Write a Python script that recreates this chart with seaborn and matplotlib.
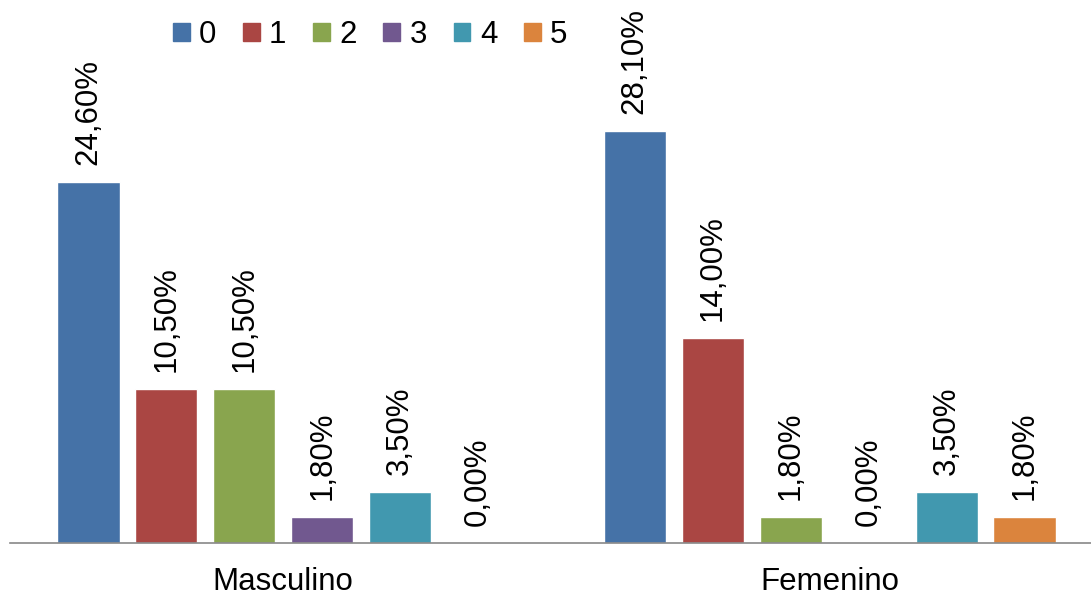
import matplotlib
matplotlib.use("Agg")
import matplotlib.pyplot as plt
import seaborn as sns
import pandas as pd

# Share of respondents per level, split by sex
sexes = ["Masculino", "Femenino"]
levels = ["0", "1", "2", "3", "4", "5"]
masculino = [24.6, 10.5, 10.5, 1.8, 3.5, 0.0]
femenino = [28.1, 14.0, 1.8, 0.0, 3.5, 1.8]
colors = ["#4572A7", "#AA4643", "#89A54E", "#71588F", "#4198AF", "#DB843D"]

rows = []
for sex, vals in zip(sexes, [masculino, femenino]):
    for lvl, v in zip(levels, vals):
        rows.append({"Sexo": sex, "Nivel": lvl, "Porcentaje": v})
df = pd.DataFrame(rows)

sns.set_style("white")
plt.rcParams["font.family"] = ["Liberation Sans", "DejaVu Sans"]
plt.rcParams["text.color"] = "black"
plt.rcParams["xtick.color"] = "black"

FS = 22.5
W, H = 1091, 597
fig = plt.figure(figsize=(W / 100, H / 100), dpi=100)
ax = fig.add_axes([10 / W, (H - 543) / H, 1093 / W, 543 / H])

sns.barplot(data=df, x="Sexo", y="Porcentaje", hue="Nivel", order=sexes,
            hue_order=levels, palette=colors, width=0.856, gap=0.2,
            saturation=1, ax=ax, legend=False)

for cont in ax.containers:
    labels = [f"{b.get_height():.2f}%".replace(".", ",") for b in cont]
    ax.bar_label(cont, labels=labels, rotation=90, padding=12, fontsize=FS,
                 color="black")

ax.set_ylim(0, 37)
ax.set_xlim(-0.5, 1.5)
ax.set_xlabel("")
ax.set_ylabel("")
ax.set_yticks([])
ax.tick_params(axis="x", length=0, pad=17, labelsize=FS, labelcolor="black")
for s in ["top", "right", "left"]:
    ax.spines[s].set_visible(False)
ax.spines["bottom"].set_color("#888888")
ax.spines["bottom"].set_linewidth(1.2)

handles = [plt.Rectangle((0, 0), 1, 1, color=c) for c in colors]
fig.legend(handles, levels, loc="center", bbox_to_anchor=(370 / W, 1 - 35 / H),
           ncol=6, frameon=False, fontsize=FS, handlelength=0.54,
           handleheight=0.54, handletextpad=0.3, columnspacing=0.85)

fig.savefig("out.png", dpi=100)
